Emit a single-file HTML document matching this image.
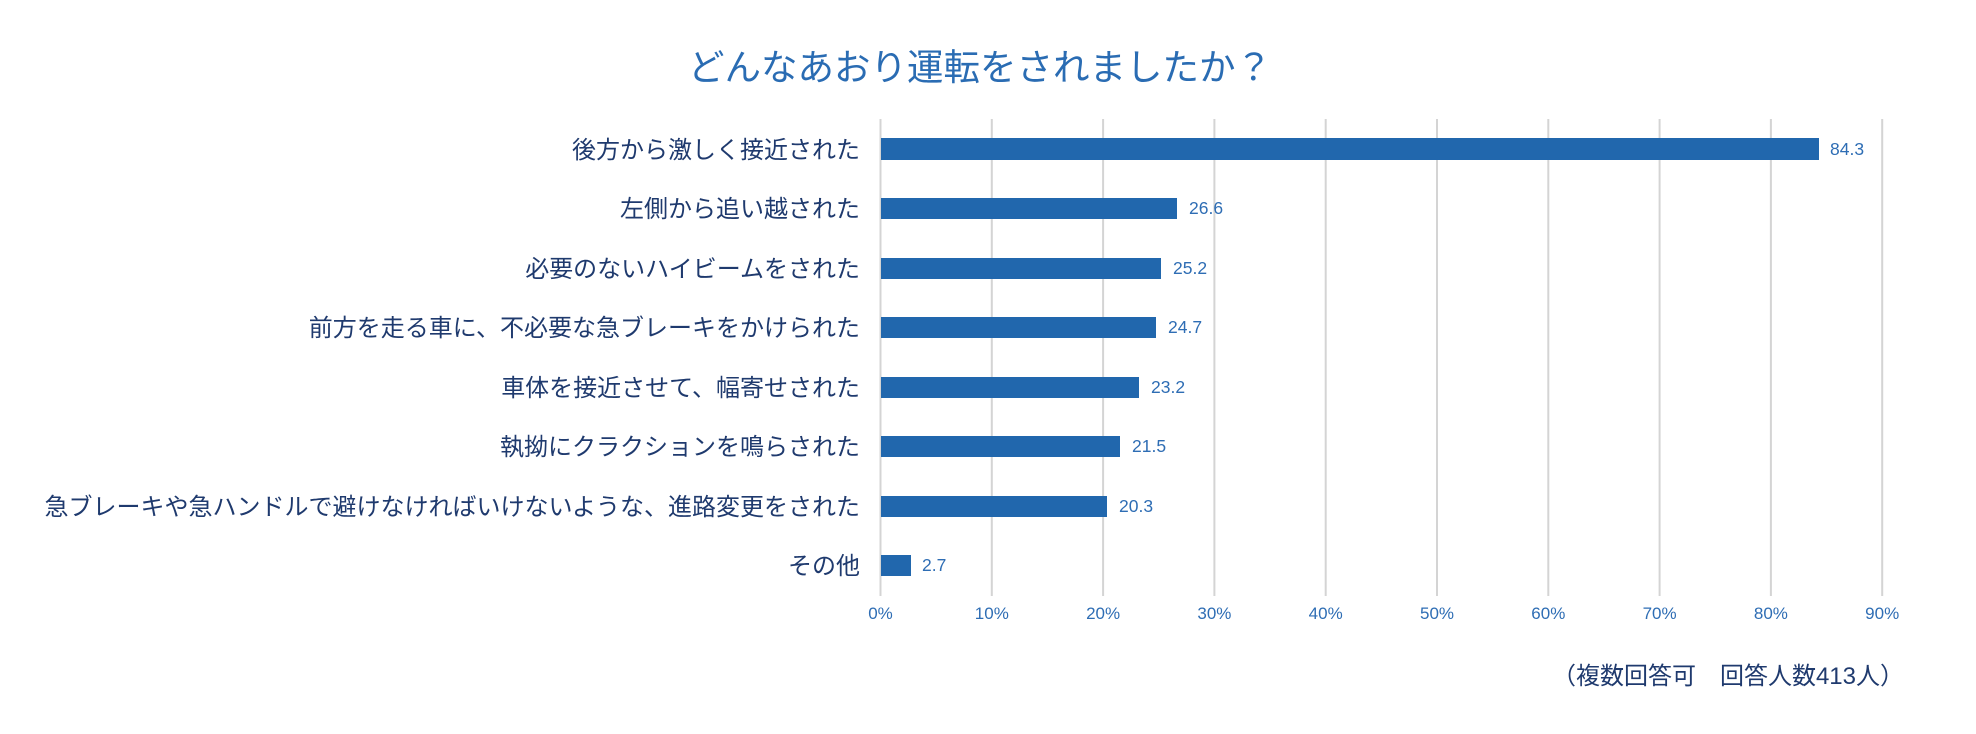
<!DOCTYPE html>
<html><head><meta charset="utf-8"><style>
html,body{margin:0;padding:0;background:#fff;}
svg{display:block;}
text{font-family:"Liberation Sans","Noto Sans CJK JP",sans-serif;}
</style></head><body>
<svg width="1976" height="734" viewBox="0 0 1976 734" xmlns="http://www.w3.org/2000/svg">
<text x="980" y="80" font-size="36.5" fill="#2a6cb3" text-anchor="middle">どんなあおり運転をされましたか？</text>
<g stroke="#d4d4d4" stroke-width="2">
<line x1="880.5" y1="119" x2="880.5" y2="596"/>
<line x1="991.8" y1="119" x2="991.8" y2="596"/>
<line x1="1103.1" y1="119" x2="1103.1" y2="596"/>
<line x1="1214.4" y1="119" x2="1214.4" y2="596"/>
<line x1="1325.7" y1="119" x2="1325.7" y2="596"/>
<line x1="1437" y1="119" x2="1437" y2="596"/>
<line x1="1548.3" y1="119" x2="1548.3" y2="596"/>
<line x1="1659.6" y1="119" x2="1659.6" y2="596"/>
<line x1="1770.9" y1="119" x2="1770.9" y2="596"/>
<line x1="1882.2" y1="119" x2="1882.2" y2="596"/>
</g>
<g font-size="17" fill="#2e6db4" text-anchor="middle">
<text x="880.5" y="619">0%</text><text x="991.8" y="619">10%</text><text x="1103.1" y="619">20%</text><text x="1214.4" y="619">30%</text><text x="1325.7" y="619">40%</text><text x="1437" y="619">50%</text><text x="1548.3" y="619">60%</text><text x="1659.6" y="619">70%</text><text x="1770.9" y="619">80%</text><text x="1882.2" y="619">90%</text>
</g>
<g fill="#2167ad">
<rect x="881" y="138" width="938" height="22"/>
<rect x="881" y="198" width="296" height="21"/>
<rect x="881" y="258" width="280" height="21"/>
<rect x="881" y="317" width="275" height="21"/>
<rect x="881" y="377" width="258" height="21"/>
<rect x="881" y="436" width="239" height="21"/>
<rect x="881" y="496" width="226" height="21"/>
<rect x="881" y="555" width="30" height="21"/>
</g>
<g font-size="17.5" fill="#2e6db4">
<text x="1830" y="155">84.3</text>
<text x="1189" y="214">26.6</text>
<text x="1173" y="274">25.2</text>
<text x="1168" y="333">24.7</text>
<text x="1151" y="393">23.2</text>
<text x="1132" y="452">21.5</text>
<text x="1119" y="512">20.3</text>
<text x="922" y="571">2.7</text>
</g>
<g font-size="24" fill="#1f3a6e" text-anchor="end">
<text x="860" y="158">後方から激しく接近された</text>
<text x="860" y="217">左側から追い越された</text>
<text x="860" y="277">必要のないハイビームをされた</text>
<text x="860" y="336">前方を走る車に、不必要な急ブレーキをかけられた</text>
<text x="860" y="396">車体を接近させて、幅寄せされた</text>
<text x="860" y="455">執拗にクラクションを鳴らされた</text>
<text x="860" y="515">急ブレーキや急ハンドルで避けなければいけないような、進路変更をされた</text>
<text x="860" y="574">その他</text>
</g>
<text x="1904" y="684" font-size="24" fill="#1f3a6e" text-anchor="end">（複数回答可　回答人数413人）</text>
</svg>
</body></html>
